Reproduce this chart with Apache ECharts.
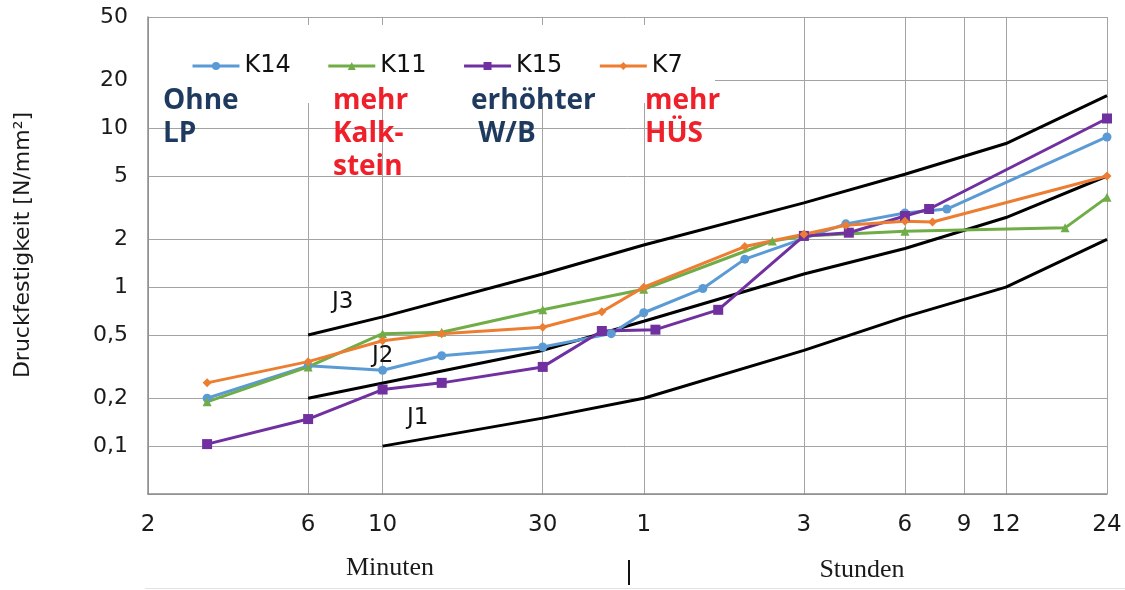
<!DOCTYPE html>
<html>
<head>
<meta charset="utf-8">
<script src="https://cdn.jsdelivr.net/npm/echarts@6/dist/echarts.min.js"></script>
<style>
  html, body { margin: 0; padding: 0; background: #fff; }
  #chart { width: 1125px; height: 590px; }
</style>
</head>
<body>
<div id="chart"></div>
<script>
// Time in minutes, strength in N/mm². Both axes are logarithmic.
const timeTicks = [2, 6, 10, 30, 60, 180, 360, 540, 720, 1440];
const timeTickLabels = ['2', '6', '10', '30', '1', '3', '6', '9', '12', '24'];
const strengthTicks = [0.05, 0.1, 0.2, 0.5, 1, 2, 5, 10, 20, 50];
const strengthTickLabels = ['', '0,1', '0,2', '0,5', '1', '2', '5', '10', '20', '50'];
const timeRange = [2, 1440];
const strengthRange = [0.05, 50];

// Measured mixes
const k14Time = [3, 6, 10, 15, 30, 48, 60, 90, 120, 240, 360, 480, 1440];
const k14Strength = [0.2, 0.32, 0.30, 0.37, 0.42, 0.51, 0.69, 0.98, 1.5, 2.5, 2.93, 3.1, 8.8];

const k11Time = [3, 6, 10, 15, 30, 60, 145, 180, 360, 1080, 1440];
const k11Strength = [0.19, 0.315, 0.51, 0.52, 0.72, 0.97, 1.95, 2.1, 2.25, 2.36, 3.67];

const k15Time = [3, 6, 10, 15, 30, 45, 65, 100, 180, 245, 360, 425, 1440];
const k15Strength = [0.103, 0.148, 0.227, 0.25, 0.315, 0.53, 0.54, 0.72, 2.1, 2.2, 2.8, 3.1, 11.5];

const k7Time = [3, 6, 10, 15, 30, 45, 60, 120, 180, 240, 360, 435, 1440];
const k7Strength = [0.25, 0.34, 0.46, 0.51, 0.56, 0.70, 1.0, 1.8, 2.15, 2.45, 2.6, 2.57, 5.0];

// Early strength class boundaries J1, J2, J3
const j1Time = [10, 30, 60, 180, 360, 720, 1440];
const j1Strength = [0.1, 0.15, 0.2, 0.4, 0.65, 1.0, 2.0];
const j2Time = [6, 30, 60, 180, 360, 720, 1440];
const j2Strength = [0.2, 0.4, 0.61, 1.21, 1.75, 2.74, 5.0];
const j3Time = [6, 10, 30, 60, 180, 360, 720, 1440];
const j3Strength = [0.5, 0.65, 1.21, 1.84, 3.39, 5.13, 8.0, 16.0];

const lg = Math.log10;
const pairs = (xs, ys) => xs.map((x, i) => [lg(x), lg(ys[i])]);
const nearest = (arr, v) => {
  let best = 0;
  arr.forEach((a, i) => { if (Math.abs(a - v) < Math.abs(arr[best] - v)) best = i; });
  return best;
};
const xTickPos = timeTicks.map(lg);
const yTickPos = strengthTicks.map(lg);

const SANS = 'DejaVu Sans';
const gridColor = '#a3a3a3';

function measured(name, xs, ys, color, symbol, size) {
  return {
    name, type: 'line', data: pairs(xs, ys),
    symbol, symbolSize: size, showSymbol: true,
    lineStyle: { color, width: 3 },
    itemStyle: { color },
    z: 3, animation: false
  };
}
function boundary(name, xs, ys) {
  return {
    name, type: 'line', data: pairs(xs, ys),
    symbol: 'none',
    lineStyle: { color: '#000', width: 3 },
    z: 2, animation: false
  };
}

const chart = echarts.init(document.getElementById('chart'), null, { renderer: 'canvas' });

const blue = '#5b9bd5', green = '#70ad47', purple = '#7030a0', orange = '#ed7d31';
const navy = '#1f3a5f', red = '#f0202a';

function note(x, y, lines, color) {
  return lines.map((t, i) => ({
    type: 'text', left: x, top: y + i * 33, z: 10,
    style: { text: t, fill: color, font: 'bold 28px "Open Sans"' }
  }));
}

chart.setOption({
  animation: false,
  backgroundColor: '#fff',
  grid: { left: 148, right: 18, top: 17, bottom: 96 },
  xAxis: {
    type: 'value',
    min: lg(timeRange[0]), max: lg(timeRange[1]),
    axisLine: { show: true, onZero: false, lineStyle: { color: '#8c8c8c', width: 1.5 } },
    axisTick: { show: false, customValues: xTickPos },
    splitLine: { show: true, lineStyle: { color: gridColor, width: 1 } },
    axisLabel: {
      customValues: xTickPos,
      formatter: v => timeTickLabels[nearest(xTickPos, v)],
      fontFamily: SANS, fontSize: 23, color: '#1a1a1a', margin: 20
    }
  },
  yAxis: {
    type: 'value',
    min: lg(strengthRange[0]), max: lg(strengthRange[1]),
    axisLine: { show: true, onZero: false, lineStyle: { color: '#8c8c8c', width: 1.5 } },
    axisTick: { show: false, customValues: yTickPos },
    splitLine: { show: true, lineStyle: { color: gridColor, width: 1 } },
    axisLabel: {
      customValues: yTickPos,
      formatter: v => strengthTickLabels[nearest(yTickPos, v)],
      fontFamily: SANS, fontSize: 22, color: '#1a1a1a', margin: 20
    }
  },
  legend: {
    data: ['K14', 'K11', 'K15', 'K7'],
    left: 186, top: 49,
    itemWidth: 47, itemHeight: 10, itemGap: 36,
    lineStyle: { width: 3 },
    textStyle: { fontFamily: SANS, fontSize: 24, color: '#111' },
    z: 6
  },
  series: [
    boundary('J1', j1Time, j1Strength),
    boundary('J2', j2Time, j2Strength),
    boundary('J3', j3Time, j3Strength),
    measured('K14', k14Time, k14Strength, blue, 'circle', 9),
    measured('K11', k11Time, k11Strength, green, 'triangle', 9),
    measured('K15', k15Time, k15Strength, purple, 'rect', 10),
    measured('K7', k7Time, k7Strength, orange, 'diamond', 9)
  ],
  graphic: [
    // white legend panel over the grid
    { type: 'rect', shape: { x: 149, y: 25, width: 566, height: 78 }, style: { fill: '#fff' }, z: 4 },
    ...note(163, 87, ['Ohne', 'LP'], navy),
    ...note(333, 87, ['mehr', 'Kalk-', 'stein'], red),
    ...note(471, 87, ['erhöhter', ' W/B'], navy),
    ...note(645, 87, ['mehr', 'HÜS'], red),
    { type: 'text', left: 332, top: 291, z: 10, style: { text: 'J3', fill: '#111', font: '23px "DejaVu Sans"' } },
    { type: 'text', left: 372, top: 345, z: 10, style: { text: 'J2', fill: '#111', font: '23px "DejaVu Sans"' } },
    { type: 'text', left: 407, top: 407, z: 10, style: { text: 'J1', fill: '#111', font: '23px "DejaVu Sans"' } },
    {
      type: 'text', x: 23, y: 245, rotation: Math.PI / 2, z: 10,
      style: { text: 'Druckfestigkeit [N/mm²]', fill: '#1a1a1a', font: '22px "DejaVu Sans"', align: 'center', verticalAlign: 'middle' }
    },
    { type: 'text', x: 390, y: 568, z: 10, style: { text: 'Minuten', fill: '#1a1a1a', font: '26px "Liberation Serif"', align: 'center', verticalAlign: 'middle' } },
    { type: 'text', x: 862, y: 570, z: 10, style: { text: 'Stunden', fill: '#1a1a1a', font: '26px "Liberation Serif"', align: 'center', verticalAlign: 'middle' } },
    { type: 'line', shape: { x1: 629, y1: 560, x2: 629, y2: 585 }, style: { stroke: '#111', lineWidth: 2 }, z: 10 },
    { type: 'line', shape: { x1: 145, y1: 588.5, x2: 1125, y2: 588.5 }, style: { stroke: '#e2e2e2', lineWidth: 1 }, z: 1 }
  ]
});
</script>
</body>
</html>
